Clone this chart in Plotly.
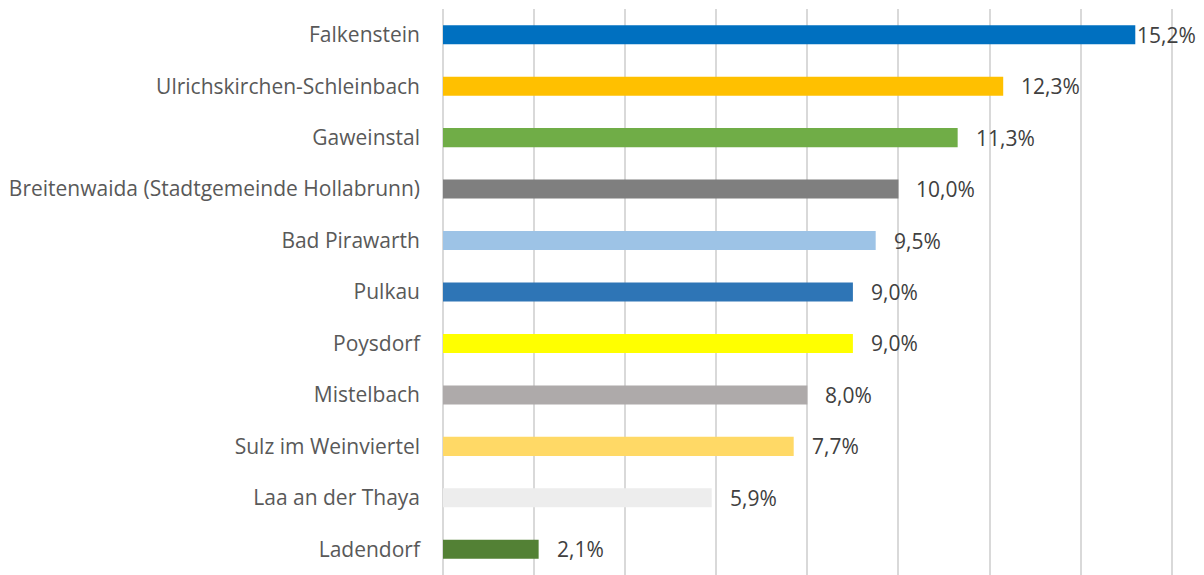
import plotly.graph_objects as go

categories = ["Falkenstein", "Ulrichskirchen-Schleinbach", "Gaweinstal",
              "Breitenwaida (Stadtgemeinde Hollabrunn)", "Bad Pirawarth", "Pulkau",
              "Poysdorf", "Mistelbach", "Sulz im Weinviertel", "Laa an der Thaya", "Ladendorf"]
values = [15.2, 12.3, 11.3, 10.0, 9.5, 9.0, 9.0, 8.0, 7.7, 5.9, 2.1]
colors = ["#0070C0", "#FFC000", "#70AD47", "#7F7F7F", "#9DC3E6", "#2E75B6",
          "#FFFF00", "#AEAAAA", "#FFD966", "#EDEDED", "#538135"]
label_shift = [0, 16, 16, 16, 16, 16, 16, 16, 16, 16, 16]

labels = [f"{v:.1f}%".replace(".", ",") for v in values]

fig = go.Figure(go.Bar(
    x=values, y=categories, orientation="h",
    marker=dict(color=colors, line=dict(width=0)),
    width=0.37, hoverinfo="skip",
))

for c, v, t, s in zip(categories, values, labels, label_shift):
    fig.add_annotation(x=v, y=c, text=t, xanchor="left", yanchor="middle",
                       xshift=s, showarrow=False,
                       font=dict(family="Open Sans", size=21, color="#404040"))

fig.update_layout(
    width=1204, height=575,
    margin=dict(l=435, r=38, t=1, b=8),
    paper_bgcolor="white", plot_bgcolor="white",
    showlegend=False,
    font=dict(family="Open Sans", size=21, color="#595959"),
    xaxis=dict(range=[0, 16.05], dtick=2, showticklabels=False,
               showgrid=True, gridcolor="#D9D9D9", gridwidth=1.5,
               zeroline=True, zerolinecolor="#D9D9D9", zerolinewidth=1.5,
               showline=False, fixedrange=True),
    yaxis=dict(autorange="reversed", categoryorder="array", categoryarray=categories,
               showgrid=False, showline=False, ticks="", ticklabelstandoff=22,
               automargin=False,
               tickfont=dict(family="Open Sans", size=21, color="#595959")),
)

fig.write_html("out.html")
